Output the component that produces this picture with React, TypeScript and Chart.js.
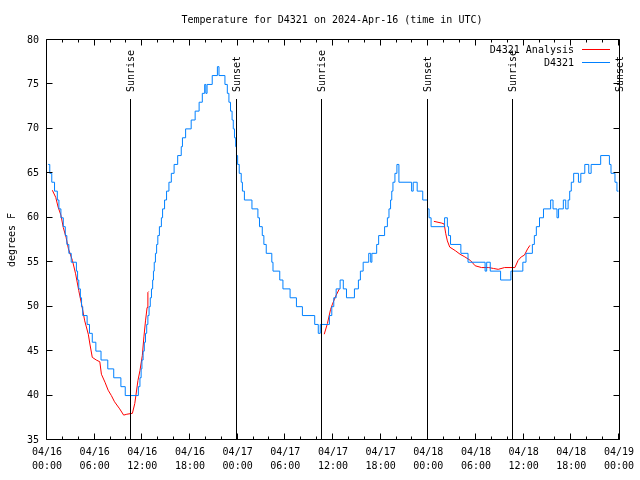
import React, { useEffect, useRef } from "react";
import { Chart, registerables } from "chart.js";

Chart.register(...registerables);

const chartTitle = "Temperature for D4321 on 2024-Apr-16 (time in UTC)";
const yAxisTitle = "degrees F";
const seriesNames = ["D4321 Analysis", "D4321"];
const seriesColors = ["#ff0000", "#0080ff"];

const xTickHours = [0, 6, 12, 18, 24, 30, 36, 42, 48, 54, 60, 66, 72];
const xTickDates = ["04/16", "04/16", "04/16", "04/16", "04/17", "04/17", "04/17", "04/17", "04/18", "04/18", "04/18", "04/18", "04/19"];
const xTickTimes = ["00:00", "06:00", "12:00", "18:00", "00:00", "06:00", "12:00", "18:00", "00:00", "06:00", "12:00", "18:00", "00:00"];
const yTickValues = [35, 40, 45, 50, 55, 60, 65, 70, 75, 80];

const sunLabels = ["Sunrise", "Sunset", "Sunrise", "Sunset", "Sunrise", "Sunset"];
const sunHours = [10.42, 23.8, 34.54, 47.84, 58.5, 71.95];

// Observed temperatures (hours since 04/16 00:00 UTC)
const obsHours = [
  0.15, 0.35, 0.6, 0.95, 1.3, 1.5, 1.75, 2.05, 2.3, 2.5, 2.75, 3.05, 3.7, 3.85, 4.0, 4.2, 4.35, 4.5, 5.05, 5.35,
  5.7, 6.15, 6.8, 7.65, 8.4, 9.3, 9.85, 11.5, 11.7, 11.85, 11.95, 12.1, 12.25, 12.4, 12.55, 12.7, 12.85, 13.0, 13.15, 13.3,
  13.4, 13.5, 13.65, 13.8, 13.95, 14.15, 14.4, 14.55, 14.8, 15.05, 15.35, 15.65, 16.0, 16.45, 16.9, 17.05, 17.45, 18.15, 18.65, 19.15,
  19.55, 19.85, 20.0, 20.15, 20.8, 21.45, 21.65, 22.4, 22.7, 22.9, 23.1, 23.3, 23.45, 23.6, 23.75, 23.85, 24.0, 24.2, 24.45, 24.6,
  24.85, 25.8, 26.55, 26.75, 27.1, 27.3, 27.6, 28.3, 28.45, 29.3, 29.7, 30.6, 31.4, 32.15, 33.7, 34.15, 34.4, 35.55, 35.85, 36.1,
  36.4, 36.9, 37.3, 37.7, 38.7, 39.2, 39.45, 39.8, 40.5, 40.75, 40.9, 41.5, 41.75, 42.5, 42.85, 43.05, 43.25, 43.4, 43.55, 43.8,
  44.05, 44.3, 45.9, 46.1, 46.6, 47.3, 47.9, 48.1, 48.35, 50.05, 50.4, 50.55, 50.8, 52.1, 53.0, 55.15, 55.35, 55.8, 57.1, 58.4,
  59.9, 60.3, 61.1, 61.35, 61.6, 62.0, 62.5, 63.4, 63.7, 64.2, 64.4, 65.0, 65.3, 65.6, 65.8, 66.0, 66.3, 66.9, 67.2, 67.7,
  68.2, 68.5, 69.7, 70.8, 71.0, 71.5, 71.75, 71.95,
];
const obsTemps = [
  66, 65, 64, 63, 62, 61, 60, 59, 58, 57, 56, 55, 54, 53, 52, 51, 50, 49, 48, 47,
  46, 45, 44, 43, 42, 41, 40, 41, 42, 43, 44, 45, 46, 47, 48, 49, 50, 51, 52, 53,
  54, 55, 56, 57, 58, 59, 60, 61, 62, 63, 64, 65, 66, 67, 68, 69, 70, 71, 72, 73,
  74, 75, 74, 75, 76, 77, 76, 75, 74, 73, 72, 71, 70, 69, 68, 67, 66, 65, 64, 63,
  62, 61, 60, 59, 58, 57, 56, 55, 54, 53, 52, 51, 50, 49, 48, 47, 48, 49, 50, 51,
  52, 53, 52, 51, 52, 53, 54, 55, 56, 55, 56, 57, 58, 59, 60, 61, 62, 63, 64, 65,
  66, 64, 63, 64, 63, 62, 61, 60, 59, 60, 59, 58, 57, 56, 55, 54, 55, 54, 53, 54,
  55, 56, 57, 58, 59, 60, 61, 62, 61, 60, 61, 62, 61, 62, 63, 64, 65, 64, 65, 66,
  65, 66, 67, 66, 65, 64, 63, 63,
];

// Analysis series (null = gap)
const analysisHours = [
  0.67, 1.1, 1.4, 1.75, 2.05, 2.4, 2.7, 3.2, 3.6, 4.0, 4.35, 4.75, 5.2, 5.4, 5.7, 6.2, 6.65, 6.85, 7.3, 7.7,
  8.1, 8.5, 9.15, 9.65, 10.05, 10.75, 11.05, 11.25, 11.45, 11.7, 12.0, 12.2, 12.4, 12.6, 12.7, 12.8,
  20,
  34.9, 35.3, 35.7, 35.9, 36.3, 36.8,
  42,
  48.7, 49.7, 50.0, 50.2, 50.4, 50.7, 51.4, 52.0, 52.6, 53.3, 53.9, 54.7, 55.6, 56.2, 56.8, 57.6, 58.9, 59.3, 59.7, 60.1,
  60.5, 60.8,
];
const analysisTemps = [
  63.1, 62.3, 61.2, 60.3, 58.9, 57.8, 56.5, 55.2, 53.7, 51.8, 50.3, 48.4, 46.9, 45.8, 44.3, 44.0, 43.8, 42.4, 41.5, 40.6,
  40.0, 39.3, 38.5, 37.8, 37.9, 38.0, 39.1, 40.4, 41.7, 42.8, 44.5, 46.6, 48.4, 49.9, 51.6, 51.7,
  null,
  46.9, 48.1, 49.7, 50.2, 51.1, 52.0,
  null,
  59.6, 59.4, 59.3, 58.2, 57.4, 56.7, 56.3, 55.9, 55.6, 55.2, 54.6, 54.4, 54.4, 54.3, 54.2, 54.4, 54.4, 55.2, 55.6, 55.8,
  56.5, 56.9,
];

const FONT = "DejaVu Sans Mono";

const decorPlugin = {
  id: "decor",
  afterDatasetsDraw(chart: any) {
    const { ctx, chartArea: a, scales } = chart;
    const x = scales.x;
    const y = scales.y;
    ctx.save();
    ctx.strokeStyle = "#000";
    ctx.lineWidth = 1;
    const L = Math.round(a.left) - 0.5;
    const R = Math.round(a.right) + 0.5;
    const T = Math.round(a.top) - 0.5;
    const B = Math.round(a.bottom) - 0.5;
    ctx.beginPath();
    ctx.rect(L, T, R - L, B - T);
    ctx.stroke();

    // x ticks (inward, mirrored)
    ctx.beginPath();
    for (let h = 0; h <= 72; h += 2) {
      const px = Math.round(x.getPixelForValue(h)) - 0.5;
      const len = h % 6 === 0 ? 6 : 3;
      ctx.moveTo(px, B);
      ctx.lineTo(px, B - len);
      ctx.moveTo(px, T);
      ctx.lineTo(px, T + len);
    }
    for (const v of yTickValues) {
      const py = Math.round(y.getPixelForValue(v)) - 0.5;
      ctx.moveTo(L, py);
      ctx.lineTo(L + 6, py);
      ctx.moveTo(R, py);
      ctx.lineTo(R - 6, py);
    }
    ctx.stroke();

    // sun lines
    ctx.font = `10px "${FONT}"`;
    ctx.fillStyle = "#000";
    sunHours.forEach((h, i) => {
      const px = Math.round(x.getPixelForValue(h)) + 0.5;
      ctx.beginPath();
      ctx.moveTo(px, 99);
      ctx.lineTo(px, B);
      ctx.stroke();
      ctx.save();
      ctx.translate(px + 1, 92);
      ctx.rotate(-Math.PI / 2);
      ctx.textAlign = "left";
      ctx.textBaseline = "middle";
      ctx.fillText(sunLabels[i], 0, 0);
      ctx.restore();
    });

    // title
    ctx.textAlign = "center";
    ctx.textBaseline = "middle";
    ctx.fillText(chartTitle, (a.left + a.right) / 2 - 1, 20);

    // y axis title
    ctx.save();
    ctx.translate(12, (a.top + a.bottom) / 2);
    ctx.rotate(-Math.PI / 2);
    ctx.fillText(yAxisTitle, 0, 0);
    ctx.restore();

    // legend
    const legendY = [50, 63];
    seriesNames.forEach((name, i) => {
      ctx.textAlign = "right";
      ctx.textBaseline = "middle";
      ctx.fillStyle = "#000";
      ctx.fillText(name, 574, legendY[i]);
      ctx.strokeStyle = seriesColors[i];
      ctx.beginPath();
      ctx.moveTo(582, legendY[i] - 0.5);
      ctx.lineTo(610, legendY[i] - 0.5);
      ctx.stroke();
    });
    ctx.restore();
  },
};

export default function App() {
  const canvasRef = useRef<HTMLCanvasElement | null>(null);

  useEffect(() => {
    if (!canvasRef.current) return;
    const analysisData = analysisHours.map((h, i) => ({ x: h, y: analysisTemps[i] }));
    const obsData = obsHours.map((h, i) => ({ x: h, y: obsTemps[i] }));
    const chart = new Chart(canvasRef.current, {
      type: "line",
      data: {
        datasets: [
          {
            label: seriesNames[0],
            data: analysisData as any,
            borderColor: seriesColors[0],
            borderWidth: 1,
            pointRadius: 0,
            spanGaps: false,
            tension: 0,
            order: 1,
          },
          {
            label: seriesNames[1],
            data: obsData as any,
            borderColor: seriesColors[1],
            borderWidth: 1,
            pointRadius: 0,
            stepped: true,
            order: 0,
          },
        ],
      },
      options: {
        responsive: false,
        animation: false,
        devicePixelRatio: 1,
        layout: { padding: { top: 40, right: 19, left: 0, bottom: 0 } },
        plugins: {
          legend: { display: false },
          title: { display: false },
          tooltip: { enabled: false },
        },
        scales: {
          x: {
            type: "linear",
            min: 0,
            max: 72,
            grid: { display: false, drawTicks: false },
            border: { display: false },
            afterBuildTicks: (scale: any) => {
              scale.ticks = xTickHours.map((v) => ({ value: v }));
            },
            afterFit: (scale: any) => {
              scale.height = 40;
            },
            ticks: {
              autoSkip: false,
              maxRotation: 0,
              padding: 6,
              color: "#000",
              font: { family: FONT, size: 10, lineHeight: 1.35 },
              callback: (value: any, index: number) => [xTickDates[index], xTickTimes[index]],
            },
          },
          y: {
            type: "linear",
            min: 35,
            max: 80,
            grid: { display: false, drawTicks: false },
            border: { display: false },
            afterBuildTicks: (scale: any) => {
              scale.ticks = yTickValues.map((v) => ({ value: v }));
            },
            afterFit: (scale: any) => {
              scale.width = 47;
            },
            ticks: {
              padding: 8,
              color: "#000",
              font: { family: FONT, size: 10 },
              callback: (value: any) => String(value),
            },
          },
        },
      },
      plugins: [decorPlugin],
    });
    return () => chart.destroy();
  }, []);

  return (
    <div style={{ position: "absolute", left: 0, top: 0, width: 640, height: 480, background: "#fff" }}>
      <canvas ref={canvasRef} width={640} height={480} style={{ width: 640, height: 480, display: "block" }} />
    </div>
  );
}
